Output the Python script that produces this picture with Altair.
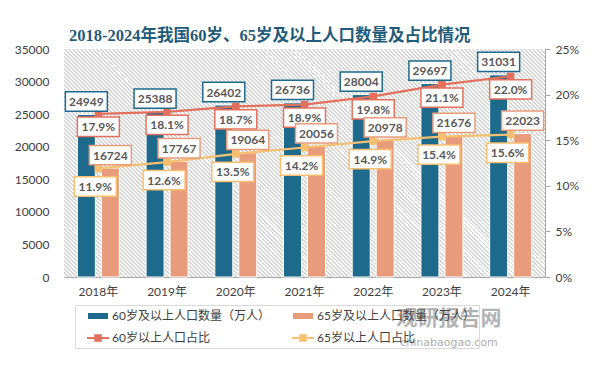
import altair as alt
import pandas as pd

# ---------------- data ----------------
years = ["2018年", "2019年", "2020年", "2021年", "2022年", "2023年", "2024年"]
pop60 = [24949, 25388, 26402, 26736, 28004, 29697, 31031]
pop65 = [16724, 17767, 19064, 20056, 20978, 21676, 22023]
share60 = [17.9, 18.1, 18.7, 18.9, 19.8, 21.1, 22.0]
share65 = [11.9, 12.6, 13.5, 14.2, 14.9, 15.4, 15.6]
# legend order (column-major: col 1 = 60岁 series, col 2 = 65岁 series)
series_names = ["60岁及以上人口数量（万人）", "60岁以上人口占比",
                "65岁及以上人口数量（万人）", "65岁以上人口占比"]
left_ticks = [0, 5000, 10000, 15000, 20000, 25000, 30000, 35000]
right_ticks = [0, 5, 10, 15, 20, 25]
title_text = "2018-2024年我国60岁、65岁及以上人口数量及占比情况"

# ---------------- style ----------------
BLUE, ORANGE, RED, YELLOW = "#1d6a8d", "#e89c7b", "#e3705d", "#f7bf6f"
series_colors = [BLUE, RED, ORANGE, YELLOW]
W, H = 481, 228
FONT = "Lato, Noto Sans CJK SC, sans-serif"
LBL = "#404040"
AX = "#a6a6a6"

df = pd.DataFrame({"year": years, "pop60": pop60, "pop65": pop65,
                   "share60": share60, "share65": share65})
df["s60"] = [f"{v:.1f}%" for v in share60]
df["s65"] = [f"{v:.1f}%" for v in share65]

base = alt.Chart(df)

X = alt.X("year:N", sort=years, title=None,
          scale=alt.Scale(paddingInner=0, paddingOuter=0),
          axis=alt.Axis(orient="bottom", labelAngle=0, ticks=False, domainColor=AX,
                        domainWidth=1, labelFont=FONT, labelFontSize=12,
                        labelColor=LBL, labelPadding=9, grid=False))

lscale = alt.Scale(domain=[0, 35000], nice=False, zero=True)
rscale = alt.Scale(domain=[0, 25], nice=False, zero=True)
left_axis = alt.Axis(orient="left", values=left_ticks, format="d", domain=False, ticks=False,
                     grid=False, labelFont=FONT, labelFontSize=12, labelColor=LBL,
                     labelPadding=15, title=None)
right_axis = alt.Axis(orient="right", values=right_ticks, labelExpr="datum.value + '%'",
                      domain=True, domainColor=AX, ticks=True, tickColor=AX, tickSize=5,
                      grid=False, labelFont=FONT, labelFontSize=12, labelColor=LBL,
                      labelPadding=5, title=None)

# hatched plot background (diagonal stripes via a repeating linear gradient)
period = 4.0
span = W + H
n = int(span / period) + 1
stops = []
for i in range(n):
    a = i * period / span
    b = min(1.0, (i * period + 1.3) / span)
    c = min(1.0, (i + 1) * period / span)
    stops += [{"offset": a, "color": "#d3d3d3"}, {"offset": b, "color": "#d3d3d3"},
              {"offset": b, "color": "#ffffff"}, {"offset": c, "color": "#ffffff"}]
k = (W + H) / (W * W + H * H)
grad = alt.LinearGradient(gradient="linear", x1=0, y1=1, x2=k * W, y2=1 - k * H, stops=stops)
bg = alt.Chart(pd.DataFrame({"a": [0]})).mark_rect(fill=grad).encode(
    x=alt.value(0), x2=alt.value(W), y=alt.value(0), y2=alt.value(H))

# bars (left axis)
bars = alt.layer(
    base.mark_bar(width=18, xOffset=-12, color=BLUE, stroke="white", strokeWidth=1).encode(
        x=X, y=alt.Y("pop60:Q", scale=lscale, axis=left_axis)),
    base.mark_bar(width=18, xOffset=12, color=ORANGE, stroke="white", strokeWidth=1).encode(
        x=X, y=alt.Y("pop65:Q", scale=lscale, axis=left_axis)),
)

# lines (right axis)
lines = alt.layer(
    base.mark_line(color=RED, strokeWidth=2.25).encode(
        x=X, y=alt.Y("share60:Q", scale=rscale, axis=right_axis)),
    base.mark_point(shape="square", filled=True, size=56, color=RED, opacity=1).encode(
        x=X, y=alt.Y("share60:Q", scale=rscale, axis=right_axis)),
    base.mark_line(color=YELLOW, strokeWidth=2.25).encode(
        x=X, y=alt.Y("share65:Q", scale=rscale, axis=right_axis)),
    base.mark_point(shape="square", filled=True, size=56, color=YELLOW, opacity=1).encode(
        x=X, y=alt.Y("share65:Q", scale=rscale, axis=right_axis)),
)

BOX = "M-1,-0.46L1,-0.46L1,0.46L-1,0.46Z"
BOXSIZE = 42 * 42


def box_label(field, textfield, scale, color, dx, dy):
    y = alt.Y(f"{field}:Q", scale=scale, axis=None)
    b = base.mark_point(shape=BOX, size=BOXSIZE, filled=True, fill="white", stroke=color,
                        strokeWidth=1.5, opacity=1, xOffset=dx, yOffset=dy).encode(x=X, y=y)
    t = base.mark_text(font=FONT, fontSize=12, fontWeight="bold", color="#595959",
                       baseline="middle", align="center", xOffset=dx, yOffset=dy + 0.5).encode(
        x=X, y=y, text=alt.Text(f"{textfield}:N"))
    return [b, t]


share_labels = alt.layer(*box_label("share60", "s60", rscale, RED, 0, 13),
                         *box_label("share65", "s65", rscale, YELLOW, -3, 18))
count_labels = alt.layer(*box_label("pop60", "pop60", lscale, BLUE, -12, -13),
                         *box_label("pop65", "pop65", lscale, ORANGE, 12, -13))

# legend (driven by a fill + shape encoding on invisible points)
RECT = "M-1.43,-0.43L1.43,-0.43L1.43,0.43L-1.43,0.43Z"
LINESQ = ("M-1.57,-0.14L1.57,-0.14L1.57,0.14L-1.57,0.14Z "
          "M-0.54,-0.54L0.54,-0.54L0.54,0.54L-0.54,0.54Z")
shape_range = [RECT, LINESQ, RECT, LINESQ]
leg = alt.Legend(orient="none", legendX=11, legendY=256, columns=2, title=None,
                 strokeColor="#d9d9d9", padding=4, symbolSize=196, symbolOffset=12,
                 labelOffset=7, rowPadding=9, columnPadding=14, labelFont=FONT,
                 labelFontSize=12, labelColor=LBL, symbolOpacity=1, symbolStrokeWidth=0,
                 labelLimit=300)
legend_layer = alt.Chart(pd.DataFrame({"series": series_names})).mark_point(
    filled=True, opacity=0, size=1).encode(
    x=alt.value(0), y=alt.value(0),
    fill=alt.Fill("series:N", scale=alt.Scale(domain=series_names, range=series_colors), legend=leg),
    shape=alt.Shape("series:N", scale=alt.Scale(domain=series_names, range=shape_range), legend=leg),
)

# watermark
wm = alt.Chart(pd.DataFrame({"t": ["观研报告网"]})).mark_text(
    font="Noto Sans CJK SC", fontSize=21, fontWeight="bold", color="#9a9a9a", opacity=0.75,
    align="center", baseline="middle").encode(x=alt.value(385), y=alt.value(270), text="t:N")
wm2 = alt.Chart(pd.DataFrame({"t": ["chinabaogao.com"]})).mark_text(
    font="DejaVu Sans", fontSize=11, color="#9a9a9a", opacity=0.8,
    align="center", baseline="middle").encode(x=alt.value(385), y=alt.value(294), text="t:N")

chart = alt.layer(bg, bars, lines, share_labels, count_labels, legend_layer, wm, wm2).resolve_scale(
    y="independent").properties(
    width=W, height=H,
    padding={"left": 56, "top": 41, "right": 36, "bottom": 75},
    autosize=alt.AutoSizeParams(type="none"),
    background="white",
    title=alt.TitleParams(text=title_text, anchor="start", frame="group", dx=5, offset=-1,
                          font="Liberation Serif, Noto Sans CJK SC", fontSize=16.5,
                          fontWeight="bold", color="#1f5b7a"),
).configure_view(stroke=None)

chart.save("out.html", embed_options={"renderer": "svg", "actions": False})
